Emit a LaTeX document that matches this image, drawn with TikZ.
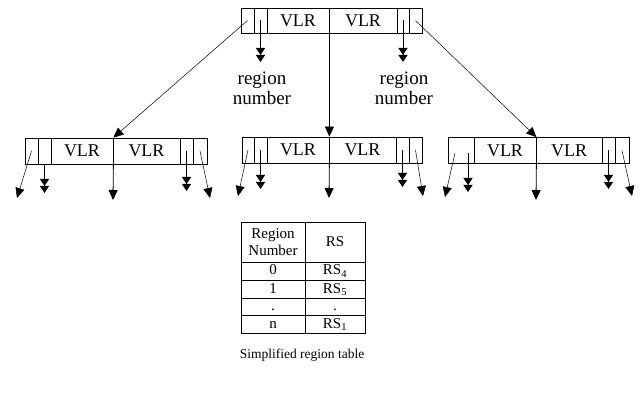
\documentclass[tikz,border=0pt]{standalone}
\usepackage{fontspec}
\setmainfont{Liberation Serif}
\usepackage{tikz}
\usetikzlibrary{positioning, arrows.meta}

\tikzset{
  cell/.style={draw, line width=0.8pt, inner sep=0pt, minimum height=26pt,
    font=\fontsize{18}{20}\selectfont},
  ptr/.style={line width=0.5pt, -{Triangle[length=10pt,width=9pt]}},
  dwn/.style={line width=0.8pt, -{Triangle[length=10pt,width=9pt]}},
  dbl/.style={line width=1pt, -{Triangle[length=7pt,width=9pt]Triangle[length=7pt,width=9pt]}},
  lbl/.style={align=center, inner sep=0pt, font=\fontsize{19}{20}\selectfont},
  tcell/.style={draw, line width=0.6pt, inner sep=0pt, align=center,
    font=\fontsize{15}{17}\selectfont},
  trow/.style={tcell, text height=10pt, text depth=2pt},
}

\begin{document}
\begin{tikzpicture}[x=1pt, y=-1pt]
\useasboundingbox (0,0) rectangle (640,406);
% top record
\node[cell, minimum height=25pt, minimum width=13pt] (Tp)  at (247.5,20.5) {};
\node[cell, minimum height=25pt, minimum width=13pt] (Tr)  at (260.5,20.5) {};
\node[cell, minimum height=25pt, minimum width=62pt] (Tv1) at (298,20.5) {VLR};
\node[cell, minimum height=25pt, minimum width=68pt] (Tv2) at (363,20.5) {VLR};
\node[cell, minimum height=25pt, minimum width=12pt] (Tr2) at (403,20.5) {};
\node[cell, minimum height=25pt, minimum width=13pt] (Tp2) at (415.5,20.5) {};
% labels
\node[lbl] (RN1) at (262,88) {region\\number};
\node[lbl] (RN2) at (404,88) {region\\number};
\coordinate (Tre)  at (260.5,62);
\coordinate (Tr2e) at (403,62);

% left record
\node[cell, minimum width=13pt] (Lp)  at (31.5,151) {};
\node[cell, minimum width=13pt] (Lr)  at (44.5,151) {};
\node[cell, minimum width=62pt] (Lv1) at (82,151) {VLR};
\node[cell, minimum width=67pt] (Lv2) at (146.5,151) {VLR};
\node[cell, minimum width=13pt] (Lr2) at (186.5,151) {};
\node[cell, minimum width=14pt] (Lp2) at (200,151) {};
\coordinate (Lpe)  at (17,198);
\coordinate (Lre)  at (44.5,193);
\coordinate (Lve)  at (113,200);
\coordinate (Lr2e) at (186.5,191);
\coordinate (Lp2e) at (210,198);

% middle record
\node[cell, minimum width=12pt] (Mp)  at (248,150) {};
\node[cell, minimum width=13pt] (Mr)  at (260.5,150) {};
\node[cell, minimum width=62pt] (Mv1) at (298,150) {VLR};
\node[cell, minimum width=67pt] (Mv2) at (362.5,150) {VLR};
\node[cell, minimum width=13pt] (Mr2) at (402.5,150) {};
\node[cell, minimum width=13pt] (Mp2) at (415.5,150) {};
\coordinate (Mpe)  at (238,196);
\coordinate (Mre)  at (260.5,189);
\coordinate (Mve)  at (329,198);
\coordinate (Mr2e) at (402.5,187);
\coordinate (Mp2e) at (423,196);

% right record
\node[cell, minimum width=26pt] (Rl)  at (461,150.5) {};
\node[cell, minimum width=62pt] (Rv1) at (505,150.5) {VLR};
\node[cell, minimum width=66pt] (Rv2) at (569,150.5) {VLR};
\node[cell, minimum width=13pt] (Rr2) at (608.5,150.5) {};
\node[cell, minimum width=14pt] (Rp2) at (622,150.5) {};
\coordinate (Rp)   at (455,153);
\coordinate (Rr)   at (468,153);
\coordinate (Rpe)  at (445,197);
\coordinate (Rre)  at (468,192);
\coordinate (Rve)  at (536,200);
\coordinate (Rr2e) at (608.5,189);
\coordinate (Rp2e) at (632,196);

% pointers from the top record
\draw[ptr] (Tp.center) -- (Lv1.north east);
\draw[dwn] (Tv1.south east) -- (Mv1.north east);
\draw[ptr] (Tp2.center) -- (Rv1.north east);
\draw[dbl] (Tr.center) -- (Tre); \draw[dbl] (Tr2.center) -- (Tr2e);

% pointers below
\draw[ptr] (Lp.center) -- (Lpe); \draw[dbl] (Lr.south) -- (Lre);
\draw[dwn] (Lv1.south east) -- (Lve);
\draw[dbl] (Lr2.center) -- (Lr2e); \draw[ptr] (Lp2.center) -- (Lp2e);
\draw[ptr] (Mp.center) -- (Mpe); \draw[dbl] (Mr.center) -- (Mre);
\draw[dwn] (Mv1.south east) -- (Mve);
\draw[dbl] (Mr2.center) -- (Mr2e); \draw[ptr] (Mp2.center) -- (Mp2e);
\draw[ptr] (Rp) -- (Rpe); \draw[dbl] (Rr) -- (Rre);
\draw[dwn] (Rv1.south east) -- (Rve);
\draw[dbl] (Rr2.center) -- (Rr2e); \draw[ptr] (Rp2.center) -- (Rp2e);

% region table
\node[tcell, minimum width=64pt, minimum height=40pt] (H1) at (273,242) {Region\\Number};
\node[tcell, minimum width=60pt, minimum height=40pt] (H2) at (335,242) {RS};
\node[trow, minimum width=64pt, minimum height=18pt] (A0) at (273,271) {0};
\node[trow, minimum width=60pt, minimum height=18pt] (B0) at (335,271) {RS\textsubscript{4}};
\node[trow, minimum width=64pt, minimum height=18pt] (A1) at (273,289) {1};
\node[trow, minimum width=60pt, minimum height=18pt] (B1) at (335,289) {RS\textsubscript{5}};
\node[trow, minimum width=64pt, minimum height=17pt] (A2) at (273,306.5) {.};
\node[trow, minimum width=60pt, minimum height=17pt] (B2) at (335,306.5) {.};
\node[trow, minimum width=64pt, minimum height=18pt] (A3) at (273,324) {n};
\node[trow, minimum width=60pt, minimum height=18pt] (B3) at (335,324) {RS\textsubscript{1}};
\node[font=\fontsize{13.5}{16}\selectfont] (Cap) at (302,355) {Simplified region table};
\end{tikzpicture}
\end{document}
